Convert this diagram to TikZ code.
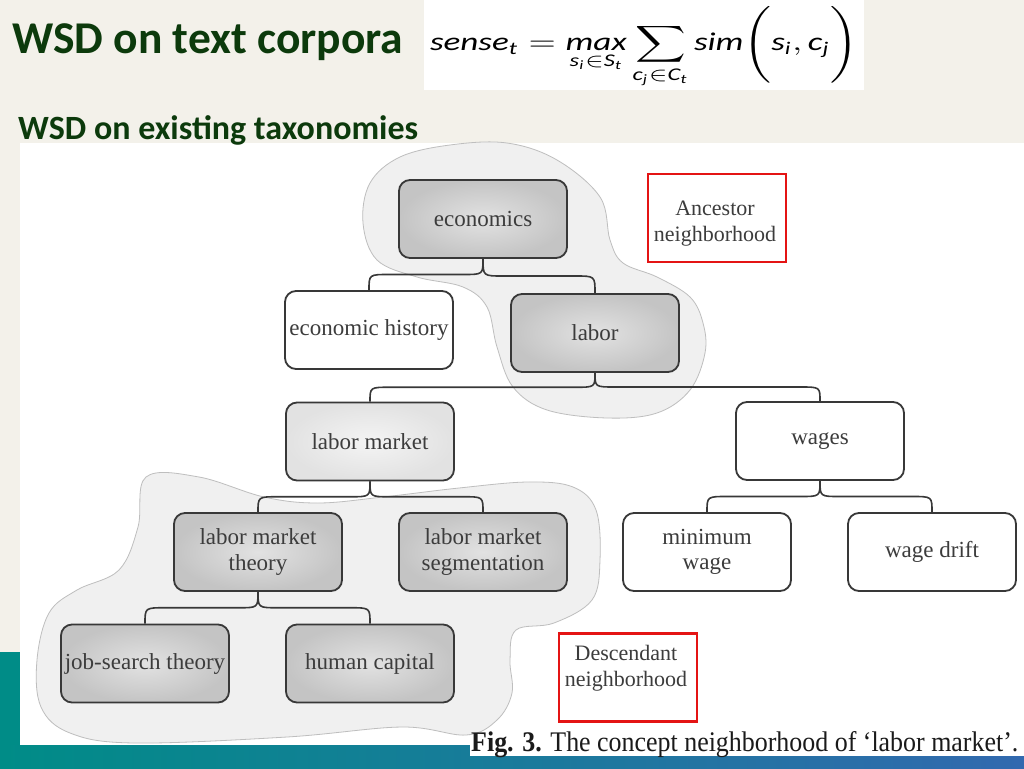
\documentclass[tikz,border=0pt]{standalone}
\usepackage{fontspec}
\usepackage{amsmath}
\usetikzlibrary{calc}
\setmainfont{Liberation Serif}
\newfontfamily\sansb{Carlito}
\newfontfamily\fmlfont{Carlito}
\newcommand\fm[1]{\text{\fmlfont\itshape #1}}
\definecolor{bgc}{RGB}{243,241,234}
\definecolor{tealc}{RGB}{0,140,135}
\definecolor{bluec}{RGB}{50,105,175}
\definecolor{titlegreen}{RGB}{12,58,12}
\definecolor{nodeline}{RGB}{56,56,56}
\definecolor{txt}{RGB}{60,60,60}
\definecolor{dkin}{RGB}{226,226,226}
\definecolor{dkout}{RGB}{196,196,196}
\definecolor{ltin}{RGB}{244,244,244}
\definecolor{ltout}{RGB}{226,226,226}
\definecolor{blobfill}{RGB}{240,240,240}
\definecolor{blobline}{RGB}{190,190,190}
\definecolor{redc}{RGB}{228,20,20}
\newcommand\tbr[4]{\draw[conn] let \p1=(#1.south), \p2=(#2.north), \n1={0.5*(\y1+\y2)} in (\p1) .. controls (\x1,\n1) .. ({\x1+(#3)},\n1) -- ({\x2+(#4)},\n1) .. controls (\x2,\n1) .. (\p2);}
\begin{document}
\begin{tikzpicture}[x=1pt,y=-1pt,
  tnode/.style={draw=nodeline, line width=1.8pt, rounded corners=11pt, minimum width=168pt, minimum height=78pt, text=txt, font=\fontsize{23}{25.5}\selectfont, align=center, inner sep=0pt},
  dark/.style={tnode, inner color=dkin, outer color=dkout},
  lite/.style={tnode, inner color=ltin, outer color=ltout},
  plain/.style={tnode, fill=white},
  conn/.style={draw=nodeline, line width=1.6pt},
  redbox/.style={draw=redc, line width=2.4pt, minimum width=138pt, minimum height=88pt, inner sep=0pt},
  rtext/.style={text=txt, font=\fontsize{22}{26}\selectfont, align=center, inner sep=0pt},
  blob/.style={fill=blobfill, draw=blobline, line width=0.8pt}]
\useasboundingbox (0,0) rectangle (1024,768);
% slide background
\fill[bgc] (0,0) rectangle (1024,768);
\fill[tealc] (0,652) rectangle (20,768);
\shade[left color=tealc, right color=bluec] (0,745) rectangle (1024,768);
\fill[white] (20,143) rectangle (1024,745);
\fill[white] (470,718) rectangle (1024,756);
\fill[white] (424,0) rectangle (864,90);
% titles
\node[anchor=base west, text=titlegreen, font=\sansb\bfseries\fontsize{45.5}{50}\selectfont, inner sep=0pt] (title) at (12,53) {WSD on text corpora};
\node[anchor=base west, text=titlegreen, font=\sansb\bfseries\fontsize{34}{40}\selectfont, inner sep=0pt] (subtitle) at (18,139) {WSD on existing taxonomies};
% formula
\node[inner sep=0pt] (formula) at (644,47) {\resizebox*{428pt}{82pt}{$\displaystyle \fm{sense}_{\fm{t}} = \mathop{\fm{max}}\limits_{\fm{s}_{\fm{i}}\in \fm{S}_{\fm{t}}} \sum\limits_{\fm{c}_{\fm{j}}\in \fm{C}_{\fm{t}}} \fm{sim}\Biggl(\fm{s}_{\fm{i}}, \fm{c}_{\fm{j}}\Biggr)$}};
% neighborhoods
\draw[blob] plot[smooth cycle, tension=0.6] coordinates {(450,145) (507,143) (557,160) (600,197) (610,240) (623,263) (657,277) (690,297) (703,323) (705,353) (690,390) (657,413) (607,418) (547,410) (513,387) (497,347) (487,307) (463,287) (417,277) (377,260) (363,223) (370,183) (400,157)};
\draw[blob] plot[smooth cycle, tension=0.6] coordinates {(146,477) (199,477) (264,497) (318,503) (383,497) (459,488) (528,482) (573,487) (596,510) (600,560) (592,600) (554,623) (516,630) (510,660) (512,693) (497,720) (466,735) (402,727) (287,737) (134,743) (70,733) (41,707) (37,660) (49,613) (77,590) (119,570) (138,527)};
% nodes
\node[dark] (econ) at (483,219) {economics};
\node[plain] (ehist) at (369,330) {economic history};
\node[dark] (labor) at (595,333) {labor};
\node[lite] (lmkt) at (370,441.5) {labor market};
\node[plain] (wages) at (820,441) {wages};
\node[dark] (lmt) at (258,552) {labor market\\theory};
\node[dark] (lms) at (483,552) {labor market\\segmentation};
\node[plain] (minw) at (707,552) {minimum\\wage};
\node[plain] (wdrift) at (932,552) {wage drift};
\node[dark] (jst) at (145,663.5) {job-search theory};
\node[dark] (hcap) at (370,663.5) {human capital};
% connectors
\tbr{econ}{ehist}{-20pt}{20pt}
\tbr{econ}{labor}{20pt}{-20pt}
\tbr{labor}{lmkt}{-20pt}{20pt}
\tbr{labor}{wages}{20pt}{-20pt}
\tbr{lmkt}{lmt}{-20pt}{20pt}
\tbr{lmkt}{lms}{20pt}{-20pt}
\tbr{wages}{minw}{-20pt}{20pt}
\tbr{wages}{wdrift}{20pt}{-20pt}
\tbr{lmt}{jst}{-20pt}{20pt}
\tbr{lmt}{hcap}{20pt}{-20pt}
% red labels
\node[redbox] (anc) at (717,218) {};
\node[rtext] (anctext) at (715,224) {Ancestor\\neighborhood};
\node[redbox] (desc) at (628,677.5) {};
\node[rtext] (desctext) at (626,668) {Descendant\\neighborhood};
% caption
\node[anchor=base west, inner sep=0pt, text={rgb,255:red,26;green,26;blue,26}] (caption) at (471,751) {\resizebox{547pt}{20pt}{\textbf{Fig. 3.} The concept neighborhood of ‘labor market’.}};
\end{tikzpicture}
\end{document}
